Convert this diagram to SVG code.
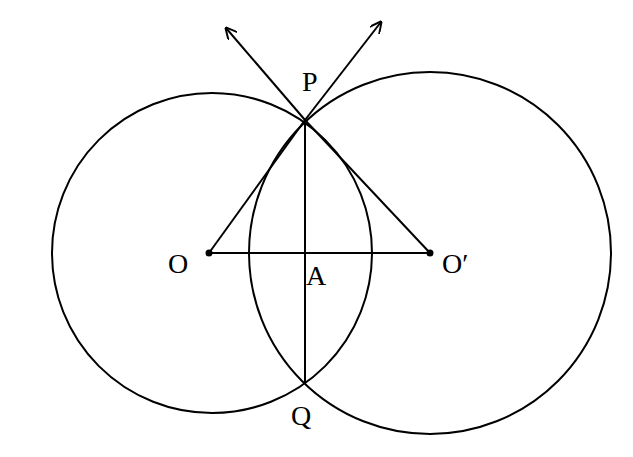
<svg xmlns="http://www.w3.org/2000/svg" width="633" height="457" viewBox="0 0 633 457">
<defs><marker id="ar" viewBox="0 0 10 10" refX="9" refY="5" markerWidth="12" markerHeight="12" markerUnits="userSpaceOnUse" orient="auto"><path d="M0,0 L10,5 L0,10" fill="none" stroke="#000" stroke-width="1.6"/></marker>
<style>.s{fill:none;stroke:#000;stroke-width:2}.t{font-family:"Liberation Serif",serif;font-size:28px}</style></defs>
<rect width="633" height="457" fill="#fff"/>
<g id="circleO"><circle class="s" cx="212" cy="253" r="160"/></g>
<g id="circleO2"><circle class="s" cx="430" cy="253" r="181"/></g>
<g id="connectors">
<line class="s" x1="305" y1="120" x2="209" y2="253"/>
<line class="s" x1="305" y1="120" x2="430" y2="253"/>
<line class="s" x1="209" y1="253" x2="430" y2="253"/>
<line class="s" x1="305" y1="120" x2="305" y2="382"/>
<line class="s" x1="305" y1="120" x2="226" y2="28" marker-end="url(#ar)"/>
<line class="s" x1="305" y1="120" x2="381" y2="22" marker-end="url(#ar)"/>
</g>
<circle cx="209" cy="253" r="3.5"/><circle cx="430" cy="253" r="3.5"/>
<g id="labels">
<text class="t" x="302" y="91">P</text>
<text class="t" x="168" y="273">O</text>
<text class="t" x="442" y="273">O′</text>
<text class="t" x="306" y="285">A</text>
<text class="t" x="291" y="425">Q</text>
</g>
</svg>
